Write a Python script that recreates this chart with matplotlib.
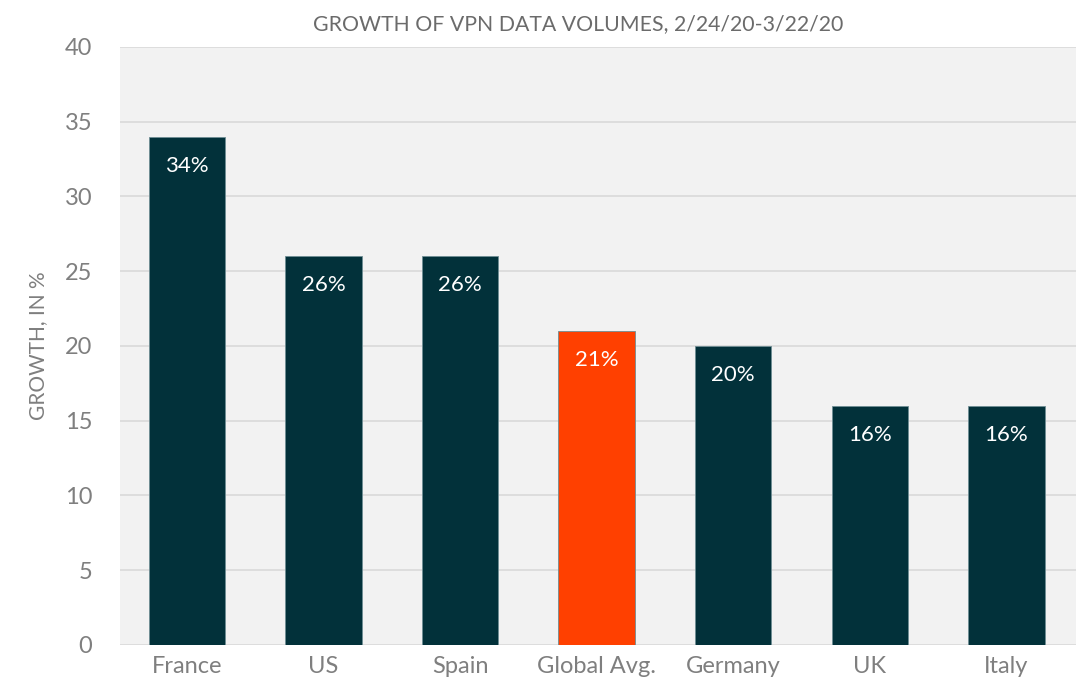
import matplotlib
matplotlib.use('Agg')
import matplotlib.pyplot as plt

plt.rcParams['font.family'] = ['Lato', 'DejaVu Sans']

countries = ['France', 'US', 'Spain', 'Global Avg.', 'Germany', 'UK', 'Italy']
growth = [34, 26, 26, 21, 20, 16, 16]
bar_labels = ['34%', '26%', '26%', '21%', '20%', '16%', '16%']
highlight = 'Global Avg.'

dark = '#02313a'
orange = '#ff4000'
colors = [orange if c == highlight else dark for c in countries]

fig = plt.figure(figsize=(10.84, 6.81), dpi=100)
ax = fig.add_axes([0.1107, 0.0529, 0.8819, 0.8781])
ax.set_facecolor('#f2f2f2')

x = range(len(countries))
bars = ax.bar(x, growth, width=0.56, color=colors, edgecolor='#6f8e94', linewidth=0.6, zorder=3)

for b, lab in zip(bars, bar_labels):
    ax.annotate(lab, (b.get_x() + b.get_width() / 2, b.get_height()),
                xytext=(0, -21), textcoords='offset points',
                ha='center', va='center', color='white', fontsize=16, zorder=4)

ax.set_xlim(-0.49, 6.51)
ax.set_ylim(0, 40)
ax.set_yticks(range(0, 41, 5))
ax.yaxis.grid(True, color='#d9d9d9', linewidth=1.2, zorder=0)
ax.set_axisbelow(True)
ax.set_xticks(list(x))
ax.set_xticklabels(countries)
ax.tick_params(axis='both', length=0, colors='#7f7f7f', labelsize=17)
ax.tick_params(axis='x', pad=8)
ax.tick_params(axis='y', pad=20)
for s in ax.spines.values():
    s.set_visible(False)

ax.set_ylabel('GROWTH, IN %', color='#7f7f7f', fontsize=15, labelpad=12)
fig.text(0.533, 0.965, 'GROWTH OF VPN DATA VOLUMES, 2/24/20-3/22/20',
         color='#6b6b6b', fontsize=15.3, ha='center', va='center')

fig.savefig('out.png', dpi=100, facecolor='white')
